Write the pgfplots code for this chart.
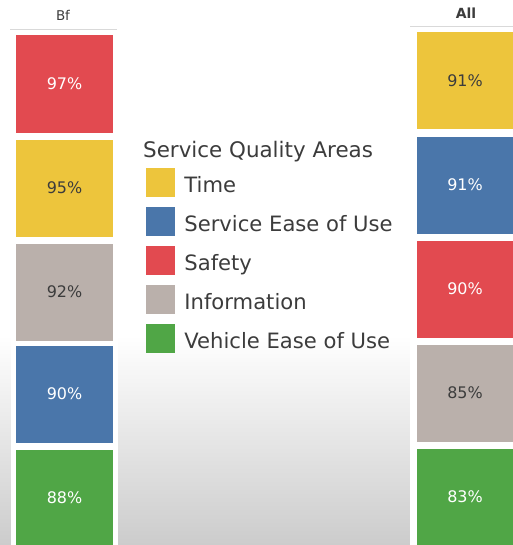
\documentclass[border=0pt]{standalone}
\usepackage{pgfplots}
\pgfplotsset{compat=1.18}
\usepackage{fontspec}
\setmainfont{DejaVu Sans}
\definecolor{cTime}{RGB}{237,197,60}
\definecolor{cServ}{RGB}{74,118,170}
\definecolor{cSafe}{RGB}{226,74,80}
\definecolor{cInfo}{RGB}{186,176,171}
\definecolor{cVeh}{RGB}{80,166,70}
\definecolor{txt}{RGB}{60,60,60}
\begin{document}
\begin{tikzpicture}
\path[use as bounding box] (0,0) rectangle (513bp,545bp);
\fill[white] (0,0) rectangle (513bp,545bp);
\shade[top color=white, bottom color=black!20] (0,0) rectangle (513bp,210bp);
\fill[white] (11bp,0) rectangle (118bp,515bp);
\fill[white] (410bp,0) rectangle (513bp,518bp);
\begin{axis}[
  at={(0,0)}, anchor=south west, scale only axis,
  width=513bp, height=545bp,
  xmin=0, xmax=513, ymin=0, ymax=545, y dir=reverse,
  hide axis, clip=true,
  /pgf/number format/assume math mode=true,
  point meta=explicit,
  only marks, mark=square*, mark size=48bp,
  mark options={line width=0pt},
  nodes near coords={\pgfmathprintnumber{\pgfplotspointmeta}\%},
  nodes near coords align={center},
  every node near coord/.append style={anchor=center, font=\fontsize{16}{16}\selectfont},
  legend image code/.code={\fill (0bp,-14bp) rectangle (28bp,14bp);},
  legend cell align=left,
  legend style={at={(axis cs:146,168)}, anchor=north west, draw=none, fill=none,
    inner sep=0pt, outer sep=0pt, row sep=10.5bp, column sep=10bp,
    nodes={inner sep=0pt, text height=21bp, text depth=0bp,
      font=\fontsize{21.2}{21.2}\selectfont, text=txt}},
]
\addplot[color=cTime, every node near coord/.append style={text=txt}]
  coordinates {(64.5,188) [95] (465,81) [91]};
\addlegendentry{Time}
\addplot[color=cServ, every node near coord/.append style={text=white}]
  coordinates {(64.5,394) [90] (465,185) [91]};
\addlegendentry{Service Ease of Use}
\addplot[color=cSafe, every node near coord/.append style={text=white}]
  coordinates {(64.5,84) [97] (465,289) [90]};
\addlegendentry{Safety}
\addplot[color=cInfo, every node near coord/.append style={text=txt}]
  coordinates {(64.5,292) [92] (465,393) [85]};
\addlegendentry{Information}
\addplot[color=cVeh, every node near coord/.append style={text=white}]
  coordinates {(64.5,498) [88] (465,497) [83]};
\addlegendentry{Vehicle Ease of Use}
\node[anchor=base west, font=\fontsize{21.5}{21.5}\selectfont, text=txt, inner sep=0pt] at (axis cs:143,157) {Service Quality Areas};
\node[font=\fontsize{13.5}{13.5}\selectfont, text=txt] at (axis cs:63,15) {Bf};
\node[font=\bfseries\fontsize{14}{14}\selectfont, text=txt] at (axis cs:466,13) {All};
\draw[black!15, line width=1bp] (axis cs:10,30) -- (axis cs:117,30);
\draw[black!15, line width=1bp] (axis cs:410,27) -- (axis cs:513,27);
\end{axis}
\end{tikzpicture}
\end{document}
